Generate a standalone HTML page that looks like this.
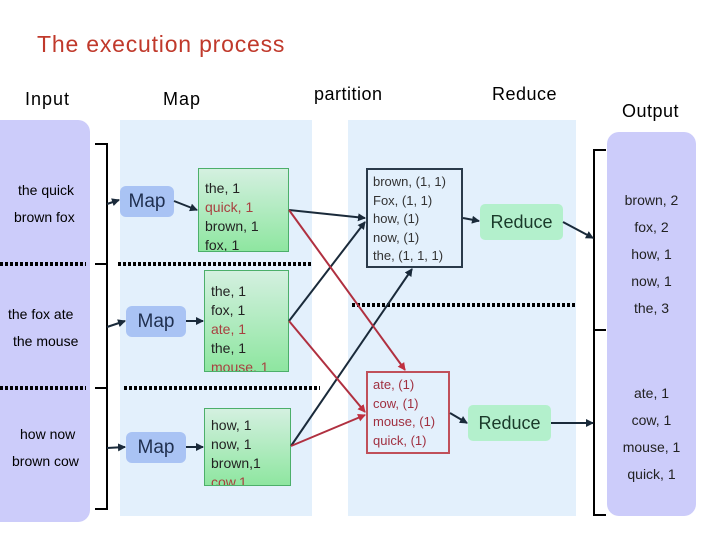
<!DOCTYPE html>
<html><head><style>
body{margin:0;width:720px;height:540px;background:#fff;position:relative;font-family:"Liberation Sans",sans-serif;overflow:hidden}
.a{position:absolute}
.t{position:absolute;white-space:nowrap}
.map{position:absolute;background:#a9c3f4;border-radius:6px;color:#1f2f4f;font-size:19px;text-align:center}
.note{position:absolute;background:linear-gradient(#d4f0e0,#8ee6a0);border:1px solid #4caf6a;font-size:14px;line-height:19px;padding-left:6px;box-sizing:border-box;color:#222;overflow:hidden}
.r{color:#a84040}
.red{position:absolute;background:#b3f0cc;border-radius:5px;font-size:18px;text-align:center;color:#1a3a2a}
.o{position:absolute;left:607px;width:89px;text-align:center;font-size:14px;color:#222}
</style></head><body>
<div class="t" style="left:37px;top:31px;font-size:23px;letter-spacing:0.8px;color:#c0392b">The execution process</div>
<div class="t" style="left:25px;top:89px;font-size:18px;letter-spacing:1px">Input</div>
<div class="t" style="left:163px;top:89px;font-size:18px;letter-spacing:1px">Map</div>
<div class="t" style="left:314px;top:84px;font-size:18px;letter-spacing:0.5px">partition</div>
<div class="t" style="left:492px;top:84px;font-size:18px;letter-spacing:0.5px">Reduce</div>
<div class="t" style="left:622px;top:101px;font-size:18px;letter-spacing:0.5px">Output</div>

<div class="a" style="left:0;top:120px;width:90px;height:402px;background:#ccccfa;border-radius:0 12px 12px 0"></div>
<div class="a" style="left:120px;top:120px;width:192px;height:396px;background:#e3f0fc"></div>
<div class="a" style="left:348px;top:120px;width:228px;height:396px;background:#e3f0fc"></div>
<div class="a" style="left:607px;top:132px;width:89px;height:384px;background:#ccccfa;border-radius:12px"></div>

<div class="t" style="left:18px;top:182px;font-size:14px">the quick</div>
<div class="t" style="left:14px;top:209px;font-size:14px">brown fox</div>
<div class="t" style="left:8px;top:306px;font-size:14px">the fox ate</div>
<div class="t" style="left:13px;top:333px;font-size:14px">the mouse</div>
<div class="t" style="left:20px;top:426px;font-size:14px">how now</div>
<div class="t" style="left:12px;top:453px;font-size:14px">brown cow</div>

<div class="map" style="left:120px;top:186px;width:54px;height:31px;line-height:31px">Map</div>
<div class="map" style="left:126px;top:306px;width:60px;height:31px;line-height:31px">Map</div>
<div class="map" style="left:126px;top:432px;width:60px;height:31px;line-height:31px">Map</div>

<div class="note" style="left:198px;top:168px;width:91px;height:84px;padding-top:10px">the, 1<br><span class="r">quick, 1</span><br>brown, 1<br>fox, 1</div>
<div class="note" style="left:204px;top:270px;width:85px;height:102px;padding-top:11px">the, 1<br>fox, 1<br><span class="r">ate, 1</span><br>the, 1<br><span class="r">mouse, 1</span></div>
<div class="note" style="left:204px;top:408px;width:87px;height:78px;padding-top:7px">how, 1<br>now, 1<br>brown,1<br><span class="r">cow,1</span></div>

<div class="a" style="left:366px;top:168px;width:97px;height:100px;border:2px solid #2a3a4a;box-sizing:border-box;font-size:13px;line-height:18.5px;padding:3px 0 0 5px;color:#333">brown, (1, 1)<br>Fox, (1, 1)<br>how, (1)<br>now, (1)<br>the, (1, 1, 1)</div>
<div class="a" style="left:366px;top:371px;width:84px;height:83px;border:2px solid #c0505a;box-sizing:border-box;font-size:13px;line-height:18.5px;padding:3px 0 0 5px;color:#a03040">ate, (1)<br>cow, (1)<br>mouse, (1)<br>quick, (1)</div>

<div class="red" style="left:480px;top:204px;width:83px;height:36px;line-height:36px">Reduce</div>
<div class="red" style="left:468px;top:405px;width:83px;height:36px;line-height:36px">Reduce</div>

<div class="o" style="top:192px">brown, 2</div>
<div class="o" style="top:219px">fox, 2</div>
<div class="o" style="top:246px">how, 1</div>
<div class="o" style="top:273px">now, 1</div>
<div class="o" style="top:300px">the, 3</div>
<div class="o" style="top:385px">ate, 1</div>
<div class="o" style="top:412px">cow, 1</div>
<div class="o" style="top:439px">mouse, 1</div>
<div class="o" style="top:466px">quick, 1</div>

<svg class="a" style="left:0;top:0" width="720" height="540">
<defs>
<marker id="k" markerWidth="8" markerHeight="8" refX="7" refY="4" orient="auto" markerUnits="userSpaceOnUse"><path d="M0,0L8,4L0,8z" fill="#1a2a3a"/></marker>
<marker id="rm" markerWidth="8" markerHeight="8" refX="7" refY="4" orient="auto" markerUnits="userSpaceOnUse"><path d="M0,0L8,4L0,8z" fill="#c03040"/></marker>
</defs>
<g stroke="#000" stroke-width="4" stroke-dasharray="3,2" fill="none">
<line x1="0" y1="264" x2="86" y2="264"/><line x1="118" y1="264" x2="313" y2="264"/>
<line x1="0" y1="388" x2="86" y2="388"/><line x1="124" y1="388" x2="320" y2="388"/>
<line x1="352" y1="305" x2="577" y2="305"/>
</g>
<g stroke="#000" stroke-width="2" fill="none">
<path d="M95,144H107V509H95M95,264H107M95,388H107"/>
<path d="M606,150H594V515H606M594,330H606"/>
</g>
<g stroke="#1a2a3a" stroke-width="2" fill="none" marker-end="url(#k)">
<line x1="107" y1="204" x2="119" y2="200"/>
<line x1="107" y1="327" x2="125" y2="321"/>
<line x1="107" y1="448" x2="125" y2="447"/>
<line x1="174" y1="201" x2="197" y2="210"/>
<line x1="186" y1="321" x2="203" y2="321"/>
<line x1="186" y1="447" x2="203" y2="447"/>
<line x1="289" y1="210" x2="365" y2="218"/>
<line x1="289" y1="321" x2="365" y2="222"/>
<line x1="291" y1="446" x2="412" y2="269"/>
<line x1="463" y1="218" x2="479" y2="221"/>
<line x1="563" y1="222" x2="593" y2="238"/>
<line x1="450" y1="413" x2="467" y2="423"/>
<line x1="551" y1="423" x2="593" y2="423"/>
</g>
<g stroke="#b03040" stroke-width="2" fill="none" marker-end="url(#rm)">
<line x1="289" y1="210" x2="405" y2="370"/>
<line x1="289" y1="321" x2="365" y2="412"/>
<line x1="291" y1="446" x2="365" y2="415"/>
</g>
</svg>
</body></html>
